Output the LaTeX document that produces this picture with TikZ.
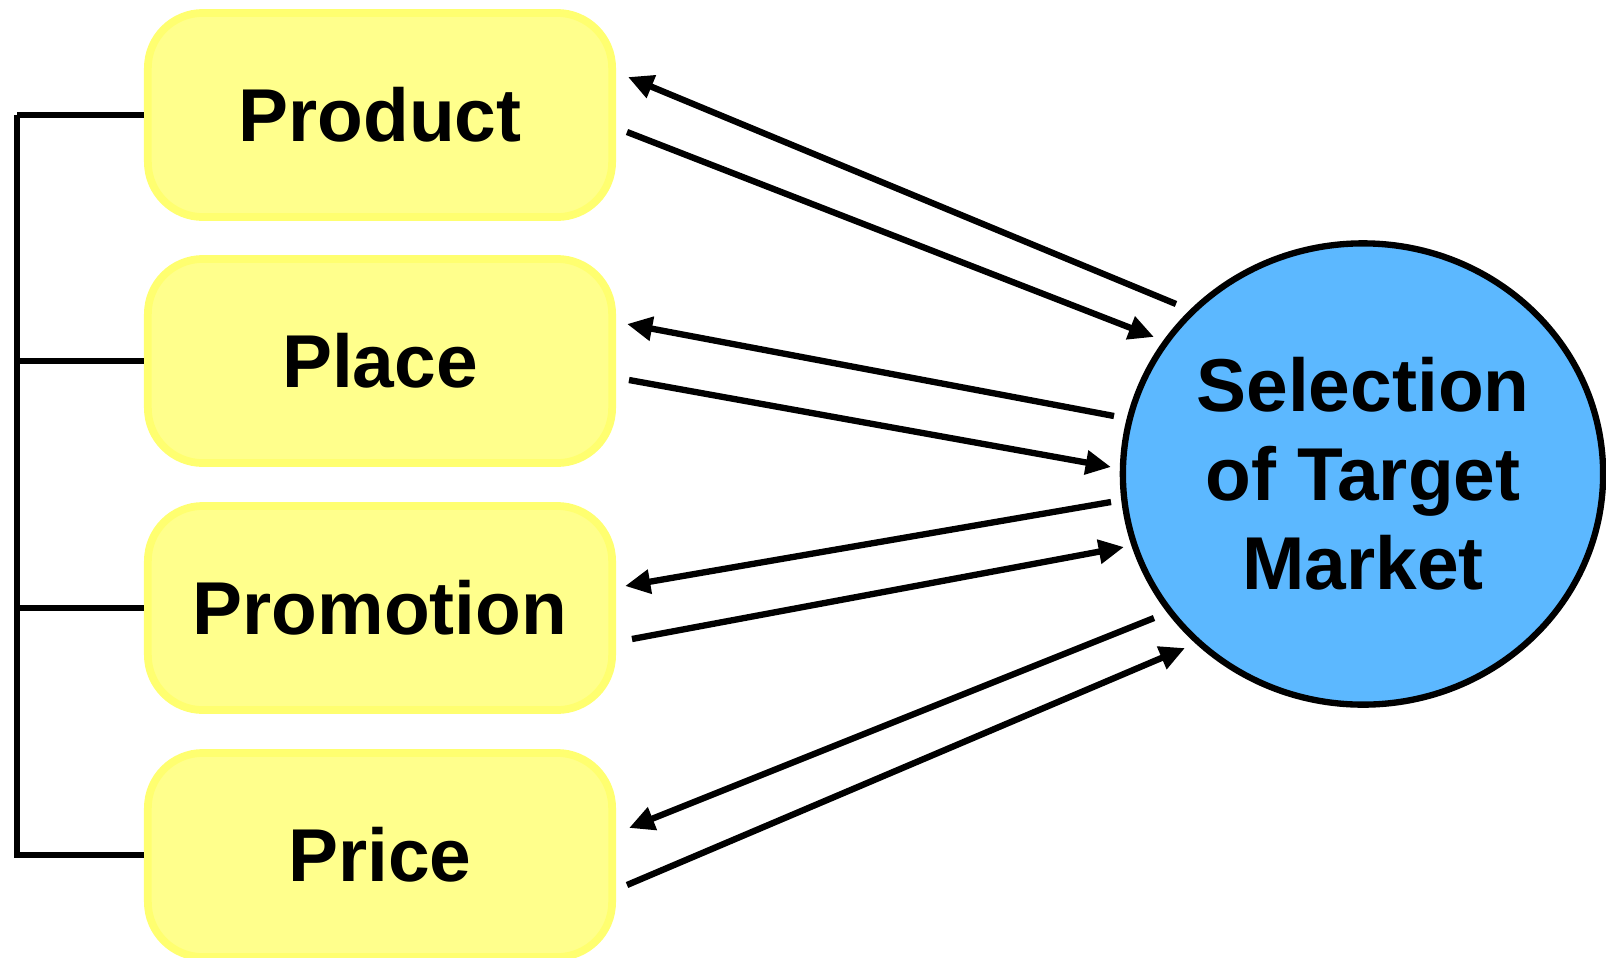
\documentclass[tikz,border=0pt]{standalone}
\usepackage{fontspec}
\setmainfont{Liberation Sans}
\usetikzlibrary{arrows.meta,calc,shapes.geometric}
\definecolor{boxfill}{HTML}{FFFF8C}
\definecolor{boxline}{HTML}{FFFF70}
\definecolor{marketblue}{HTML}{5CB8FF}

\begin{document}
\begin{tikzpicture}[x=0.01cm,y=-0.01cm,
		arr/.style={draw=black,line width=1.8pt,-{Triangle[length=7.2pt,width=6.6pt]}},
		bracket/.style={draw=black,line width=1.8pt}]
			\useasboundingbox (0,0) rectangle (1606,957);
			\begin{scope}[every node/.style={rectangle,rounded corners=0.55cm,fill=boxfill,draw=boxline,line width=2.2pt,minimum width=4.64cm,minimum height=2.04cm,font=\fontsize{21.3}{25.3}\selectfont\bfseries}]
	    		\node (prod) at (380,115) {Product};
	    		\node (place) at (380,361) {Place};
	    		\node (promo) at (380,608) {Promotion};
	    		\node (price) at (380,855) {Price};
			\end{scope}
			\begin{scope}[every node/.style={ellipse,fill=marketblue,draw=black,line width=1.8pt,minimum width=4.8cm,minimum height=4.61cm,align=center,inner sep=0pt,font=\fontsize{21.3}{25.3}\selectfont\bfseries}]
	    		\node (tm) at (1363,474) {Selection\\of Target\\Market};
			\end{scope}

			\begin{scope}
				\coordinate (top) at (17,115);
				\coordinate (bot) at (17,858);
				\draw [bracket] (top) -- (bot);
				\draw [bracket] (17,115) -- (prod.west);
				\draw [bracket] (17,361) -- (place.west);
				\draw [bracket] (17,608) -- (promo.west);
				\draw [bracket] (17,855) -- (price.west);
			\end{scope}

			\begin{scope}
				\draw [arr] ($(tm.center)+(-187,-170)$) -- ($(prod.east)+(12,-38)$);
				\draw [arr] ($(prod.east)+(11,17)$) -- ($(tm.center)+(-209,-137)$);
				\draw [arr] ($(tm.center)+(-249,-58)$) -- ($(place.east)+(11,-37)$);
				\draw [arr] ($(place.east)+(13,19)$) -- ($(tm.center)+(-252,-7)$);
				\draw [arr] ($(tm.center)+(-252,28)$) -- ($(promo.east)+(9,-22)$);
				\draw [arr] ($(promo.east)+(16,31)$) -- ($(tm.center)+(-239,73)$);
				\draw [arr] ($(tm.center)+(-209,144)$) -- ($(price.east)+(13,-27)$);
				\draw [arr] ($(price.east)+(11,30)$) -- ($(tm.center)+(-178,174)$);
			\end{scope}
		\end{tikzpicture}
\end{document}
